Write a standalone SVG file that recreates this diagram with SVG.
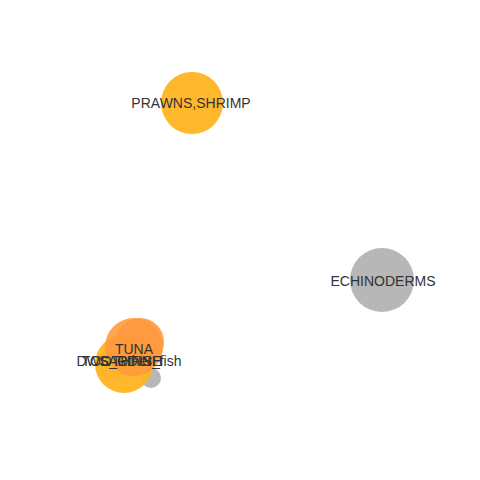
<svg xmlns="http://www.w3.org/2000/svg" width="480" height="480" viewBox="0 0 480 480">
<style>
text{font-family:"Liberation Sans",Arial,sans-serif;font-size:14px;fill:#333;text-anchor:middle;dominant-baseline:central}
.gray{fill:#b3b3b3;fill-opacity:0.95}
.yel{fill:#ffb420;fill-opacity:0.95}
.org{fill:#ff9a3c;fill-opacity:0.9}
</style>
<rect width="480" height="480" fill="#fff"/>
<g id="connectors"></g>
<g id="node-prawns"><circle class="yel" cx="192" cy="103" r="31"/><text x="191" y="103">PRAWNS,SHRIMP</text></g>
<g id="node-echinoderms"><circle class="gray" cx="382" cy="280" r="32"/><text x="383" y="281">ECHINODERMS</text></g>
<g id="node-gray-small"><circle class="gray" cx="151" cy="378" r="10"/></g>
<g id="node-gray-left"><circle class="gray" cx="112" cy="365" r="16"/></g>
<g id="node-yellow"><circle class="yel" cx="124" cy="364" r="29"/></g>
<g id="node-orange2"><circle class="org" cx="140" cy="342" r="24"/></g>
<g id="node-tuna"><circle class="org" cx="134" cy="347" r="29"/><text x="134" y="349">TUNA</text></g>
<g id="labels-cluster">
<text x="129" y="361">DWS_Other_fish</text>
<text x="122" y="361">TOOTHFISH</text>
<text x="130" y="361">SARDINE</text>
</g>
</svg>
